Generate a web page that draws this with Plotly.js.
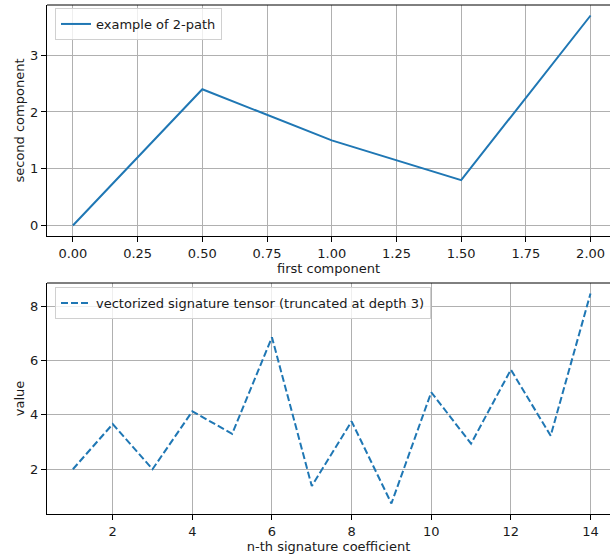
<!DOCTYPE html>
<html>
<head>
<meta charset="utf-8">
<script src="https://cdn.plot.ly/plotly-3.0.1.min.js"></script>
<style>html,body{margin:0;padding:0;background:#fff;}#chart{width:610px;height:558px;}</style>
</head>
<body>
<div id="chart"></div>
<script>
// Top panel: a 2-D path
const pathX = [0.0, 0.5, 1.0, 1.5, 2.0];
const pathY = [0.0, 2.4, 1.5, 0.8, 3.7];
const pathLabel = "example of 2-path";

// Bottom panel: signature coefficients
const coefIndex = [1, 2, 3, 4, 5, 6, 7, 8, 9, 10, 11, 12, 13, 14];
const coefValues = [2.0, 3.66, 2.0, 4.13, 3.3, 6.85, 1.38, 3.76, 0.74, 4.83, 2.94, 5.66, 3.23, 8.46];
const coefLabel = "vectorized signature tensor (truncated at depth 3)";

const topXTicks = [0, 0.25, 0.5, 0.75, 1.0, 1.25, 1.5, 1.75, 2.0];
const topXTickText = ["0.00", "0.25", "0.50", "0.75", "1.00", "1.25", "1.50", "1.75", "2.00"];
const topYTicks = [0, 1, 2, 3];
const botXTicks = [2, 4, 6, 8, 10, 12, 14];
const botYTicks = [2, 4, 6, 8];

const blue = "#1f77b4";
const font = {family: "DejaVu Sans, sans-serif", size: 13, color: "#1a1a1a"};

const traces = [
  {x: pathX, y: pathY, type: "scatter", mode: "lines", name: pathLabel,
   line: {color: blue, width: 2}, xaxis: "x", yaxis: "y", legend: "legend"},
  {x: coefIndex, y: coefValues, type: "scatter", mode: "lines", name: coefLabel,
   line: {color: blue, width: 2, dash: "7px,3px"}, xaxis: "x2", yaxis: "y2", legend: "legend2"}
];

const axisCommon = {
  showgrid: true, gridcolor: "#b0b0b0", gridwidth: 1,
  zeroline: false, showline: true, linecolor: "#000", linewidth: 1,
  ticks: "outside", ticklen: 5, tickwidth: 1, tickcolor: "#000",
  tickfont: font, mirror: false
};

const layout = {
  width: 610, height: 558, autosize: false,
  margin: {l: 0, r: 0, t: 0, b: 0},
  paper_bgcolor: "#fff", plot_bgcolor: "#fff",
  font: font,
  xaxis: Object.assign({}, axisCommon, {
    domain: [47/610, 1], anchor: "y", range: [-0.1, 2.075],
    tickvals: topXTicks, ticktext: topXTickText,
    title: {text: "first component", font: font, standoff: 4}
  }),
  yaxis: Object.assign({}, axisCommon, {
    domain: [(558-236)/558, (558-5)/558], anchor: "x", range: [-0.185, 3.885],
    tickvals: topYTicks,
    title: {text: "second component", font: font, standoff: 2}
  }),
  xaxis2: Object.assign({}, axisCommon, {
    domain: [47/610, 1], anchor: "y2", range: [0.35, 14.49],
    tickvals: botXTicks,
    title: {text: "n-th signature coefficient", font: font, standoff: 4}
  }),
  yaxis2: Object.assign({}, axisCommon, {
    domain: [(558-514)/558, (558-283)/558], anchor: "x2", range: [0.354, 8.846],
    tickvals: botYTicks,
    title: {text: "value", font: font, standoff: 2}
  }),
  shapes: [
    {type: "line", xref: "paper", yref: "paper", x0: 47/610, x1: 1, y0: (558-5)/558, y1: (558-5)/558, line: {color: "#000", width: 1}},
    {type: "line", xref: "paper", yref: "paper", x0: 47/610, x1: 1, y0: (558-283)/558, y1: (558-283)/558, line: {color: "#000", width: 1}}
  ],
  showlegend: true,
  legend: {x: 55/610, y: (558-8)/558, xanchor: "left", yanchor: "top",
    bgcolor: "rgba(255,255,255,0.8)", bordercolor: "#d0d0d0", borderwidth: 1,
    font: font, itemwidth: 30, tracegroupgap: 0},
  legend2: {x: 55/610, y: (558-287)/558, xanchor: "left", yanchor: "top",
    bgcolor: "rgba(255,255,255,0.8)", bordercolor: "#d0d0d0", borderwidth: 1,
    font: font, itemwidth: 30, tracegroupgap: 0}
};

Plotly.newPlot("chart", traces, layout, {displayModeBar: false, staticPlot: true});
</script>
</body>
</html>
